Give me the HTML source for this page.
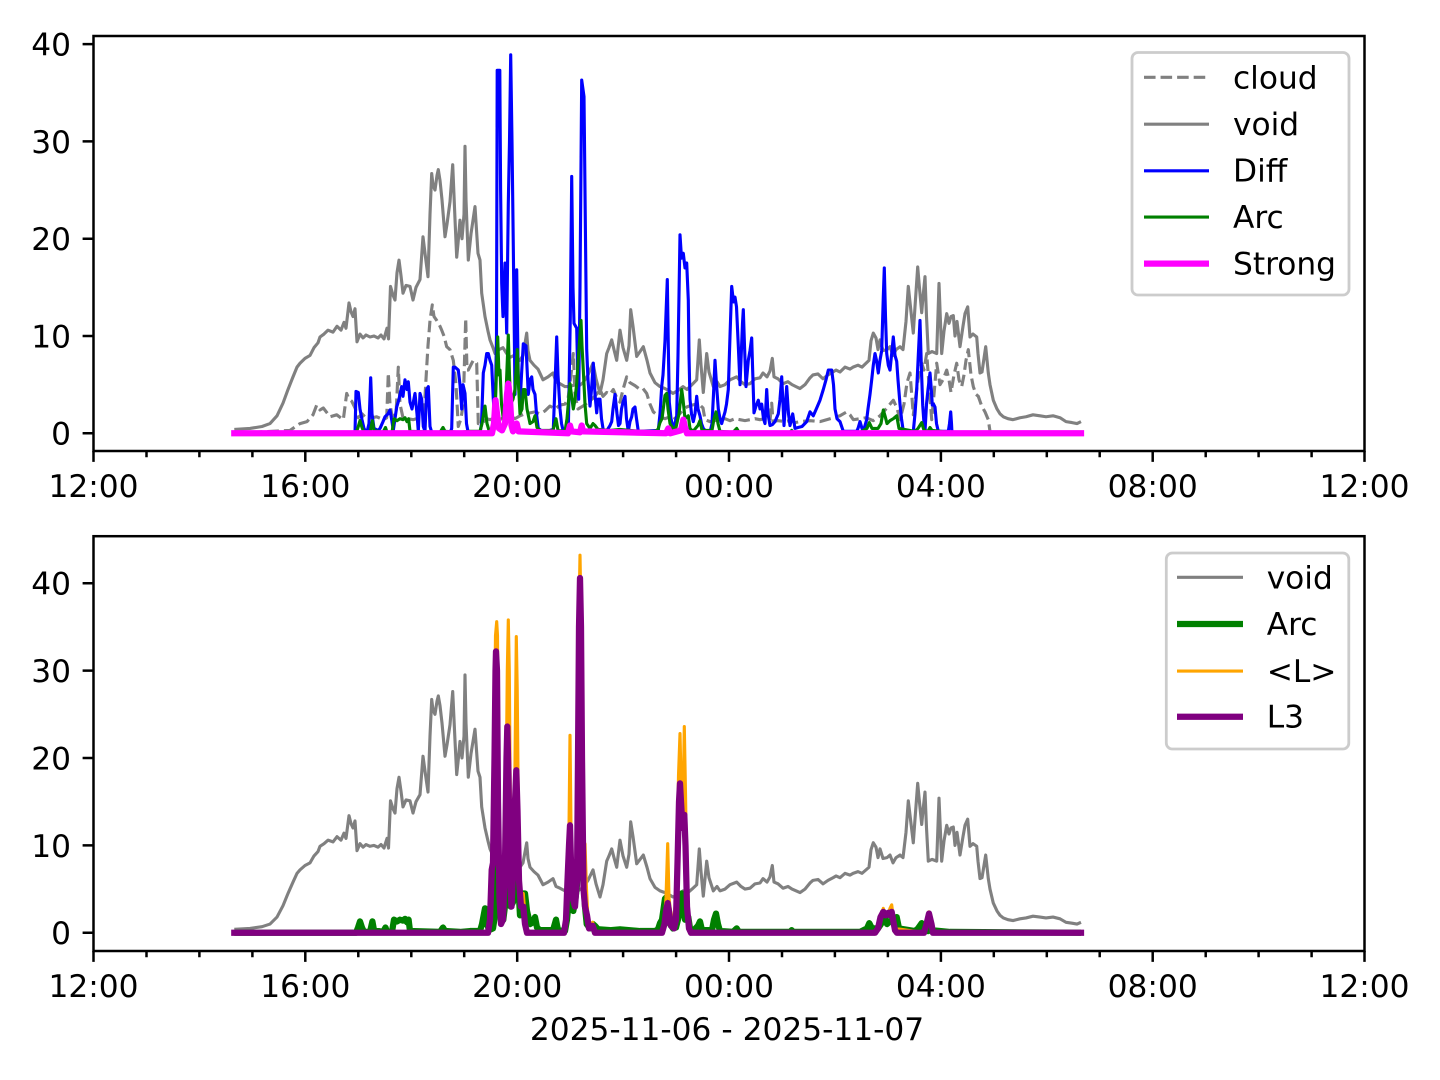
<!DOCTYPE html>
<html>
<head>
<meta charset="utf-8">
<style>
html,body{margin:0;padding:0;background:#fff;overflow:hidden;}
svg{display:block;}
.d{fill:none;vector-effect:non-scaling-stroke;stroke-linejoin:round;stroke-linecap:butt;}
text{font-family:"DejaVu Sans","Liberation Sans",sans-serif;font-size:31.25px;fill:#000;}
</style>
</head>
<body>
<svg width="1440" height="1080" viewBox="0 0 1440 1080" xmlns="http://www.w3.org/2000/svg">
<rect x="0" y="0" width="1440" height="1080" fill="#fff"/>

<!-- ================= TOP AXES ================= -->
<g transform="translate(0,433.3) scale(1,-9.73)">
  <!-- cloud -->
  <polyline class="d" stroke="#808080" stroke-width="3.125" stroke-dasharray="11.56,5" points="234.3,0 290,0.3 300,1.0 307,1.2 313,1.9 316.7,2.9 320,2.4 323.3,2.6 330,1.7 336.7,1.9 343.3,1.4 346.7,4.1 349,3.5 351.7,3.3 355,2.6 358.3,1.6 362,2.0 366.7,1.5 372,1.6 376.7,1.7 383.3,1.4 386.7,1.6 388.3,6.2 390,3.0 392,1.8 396,1.9 398.3,6.8 400,3.0 403,1.6 408,1.5 413.3,1.4 420,1.6 424,2.0 426.7,6.8 428,9.0 430,11.6 432.3,13.2 434,12.0 436.7,11.6 440,11.0 441.7,10.6 444,10.0 446.7,8.9 450,8.6 453.3,7.5 456,5.0 458.3,0.7 461,1.5 463.3,3.1 465.7,11.8 467,6.5 468.3,6.5 471.7,7.2 473.3,7.5 476.7,7.2 478.3,1.0 482,1.0 486.7,1.5 490,1.4 495,1.6 500,1.4 505,1.7 510,1.8 515,1.5 520,1.8 525,2.0 530,2.1 535,2.2 540,2.0 545,2.3 550,2.8 555,2.5 560,2.9 565,3.0 568,3.5 571,6.0 573.3,8.2 575,4.0 578,2.5 583,2.8 588,3.2 593,3.6 598,4.2 600,4.5 603,3.8 606.7,4.2 610,4.0 613.3,4.5 617,3.6 620,3.2 623,4.5 626.7,5.8 630,5.2 635,4.9 640,4.5 643,4.6 646.7,4.1 650,3.0 653.3,2.2 657,1.9 660,1.7 665,1.5 670,1.7 673.3,1.4 678,1.8 683,2.4 686.7,2.7 692,2.9 696,3.0 700,2.9 703,2.6 705,1.4 710,1.2 715,1.3 720,1.4 725,1.5 730,1.3 735,1.5 740,1.4 745,1.3 750,1.4 755,1.5 760,1.4 765,1.5 770,1.3 771.7,3.1 773,1.2 778,1.3 785,1.2 790,1.3 795,1.1 800,1.2 810,1.3 820,1.2 830,1.5 840,1.8 846.7,2.2 850,1.9 853.3,1.4 860,1.5 866,1.6 873.3,1.3 880,1.8 886,2.5 893.3,3.4 897,2.6 900,1.4 904,3.0 907,5.2 910,6.2 913.3,1.9 916,4.0 918,5.5 921.7,7.2 924,6.5 926.7,8.2 929,5.0 931.7,1.4 934,4.0 936.7,7.2 940,5.0 943,5.5 946.7,6.5 949,5.5 951,4.2 954,6.0 956.7,7.2 959,5.5 961.7,4.8 964,6.0 966,7.5 968.3,8.6 971,6.0 973.3,4.8 976,4.0 978.3,3.8 981.7,2.8 985,2.2 988.3,1.4 990,0.2"/>
  <!-- void -->
  <polyline class="d" stroke="#808080" stroke-width="3.125" points="234.3,0.4 250,0.5 262,0.7 270,1.0 277,1.8 283,3.1 288,4.5 293,5.8 297,6.8 300,7.2 305,7.7 310,8.0 314,8.8 318,9.3 320,9.9 324,10.2 328,10.6 333,10.4 337,11.0 341,10.6 344,11.4 346,10.8 349,13.4 351,12.5 353,12.0 355,12.8 357,9.4 360,10.2 363,9.8 366,10.1 370,9.9 374,10.0 378,9.8 381,10.1 384,9.7 387,10.8 388.5,9.7 390.5,15.1 393,14.2 395,13.7 397,16.5 399,17.8 401,16.2 403,14.4 406,15.2 410,15.1 413,13.7 416,15.0 420,15.8 423,20.2 425,18.5 428,16.1 430,22.5 431.7,26.7 433,25.5 435,25.0 437,26.5 438.3,27.1 440,26.0 442,24.0 445,20.2 447,21.5 450,23.8 452.7,27.6 455,22.0 456.7,18.1 458,19.5 460,21.9 462,20.0 464,22.5 465,29.5 466,24.0 468.3,17.8 471,20.5 475,23.3 478,18.5 480,17.8 481.7,14.4 485,12.0 488,10.5 490,9.6 493,8.8 495,8.2 499,8.6 503,8.8 506.7,8.2 510,7.8 514,8.0 517,7.4 520,7.5 523,8.0 526.7,10.3 528,8.5 530,7.5 534,7.0 538,6.6 543,5.5 548,5.8 553,6.2 556,5.3 560,5.1 565,4.8 570,4.8 575,5.0 578,4.8 583,5.2 588,6.0 593,7.2 596,5.6 600,4.1 603,5.5 606.7,8.2 609,8.8 611.7,9.6 614,8.6 616.7,7.5 620,10.6 623,8.8 626.7,7.5 629,9.0 630.7,12.7 633,11.0 636.7,7.9 640,8.4 643.3,8.9 647,7.5 650,6.2 655,5.2 660,4.8 665,4.6 670,4.3 673,4.1 678,4.4 683,4.8 687,4.5 692,5.0 696.7,5.5 699.3,9.6 701,7.0 703.3,4.2 706.7,8.2 709,6.3 713.3,4.8 717,5.3 720,4.8 725,5.0 730,5.5 736.7,5.8 741,5.3 745,5.0 750,5.1 755,5.6 760,5.7 763,6.2 767,5.8 770,6.4 772.3,7.7 774,5.8 778,5.6 783,5.1 788,5.3 792,5.0 796,4.8 800,4.6 805,5.0 810,5.7 813,6.0 818,6.1 823,5.6 828,6.0 833,6.3 836,6.5 840,6.3 845,6.8 850,6.6 853,6.8 858,7.0 862,6.8 866,7.2 869,7.5 871,9.5 873.3,10.3 876,9.8 878,8.6 880,9.6 883,8.5 887,8.6 890,8.9 893,8.0 896,8.6 900,8.9 903,8.6 906,11.5 908.3,15.1 911,12.5 913.3,10.3 915,13.0 917.7,17.1 919,15.5 921.7,12.4 923,14.0 925,16.1 926.5,12.0 928.3,8.2 932,8.4 936.7,8.2 939,15.4 941.7,8.2 944,10.5 946.7,12.3 949,11.3 951,12.0 953.3,12.1 955,10.0 957,11.5 960,8.9 963,11.0 965,12.3 967.7,13.0 970,9.9 973,10.2 976.7,9.9 978,8.2 980,6.2 982,6.3 985.7,8.9 988.3,6.2 990,5.0 993.3,3.4 997,2.5 1000,2.0 1003.3,1.7 1008,1.5 1013,1.4 1020,1.6 1026,1.7 1033,1.9 1040,1.8 1046,1.7 1053,1.8 1060,1.6 1066,1.2 1072,1.1 1077,1.0 1081,1.2"/>
  <!-- Diff -->
  <polyline class="d" stroke="#0000ff" stroke-width="3.125" points="355,0 356,4.3 358.3,4.2 360,2.5 362,1.4 364,0.5 366.7,0 369,1.0 370.7,5.7 372,2.0 374,0.5 378,0.3 380,0.5 383,1.2 385,1.7 388,2.0 390,2.4 392,1.2 393.3,0.3 395,1.5 396.7,2.7 399,3.5 401.7,4.8 403,3.8 405,5.5 407,4.5 408.3,5.3 410,3.2 412,2.5 415,4.1 417,2.0 418.3,0.2 420,4.1 421.7,3.5 423.3,0.7 425,0.2 426.7,4.5 428.3,4.8 430,0.7 432,0 450,0 451.7,0.5 453.3,6.8 455,6.8 458.3,6.5 460,5.0 461.7,2.5 463,5.0 465,4.1 466.5,1.0 468.3,0 480,0 481.5,1.0 483.3,6.2 485,7.0 486.7,8.2 488.3,8.2 490,7.5 491.7,7.0 493.3,3.5 495,1.0 496.5,10 497.2,37.3 499.8,37.3 500.6,25 501.7,15.4 503,12 505,17.5 506.7,10.3 508.3,23.6 509.5,30 510.7,38.9 512,30 513.3,19.2 515,4.0 516.7,16.8 518.3,5.5 520,3.0 521.5,6.0 523.3,9.2 526,9.0 528.3,4.0 530,5.5 531.7,5.8 533,4.5 535,4.0 536.5,2.0 538.3,0.5 541,0.3 545,0.2 550,0.3 553.3,0.4 555,5.0 556.7,9.9 558,6.0 560,2.5 561.5,1.0 563.3,0.2 568.3,0.2 570.3,12 571.7,26.4 573,15 574,11.3 576.7,10.8 578,5.0 578.7,3.5 580,15 581.7,36.3 584,34.6 585.5,20 586.7,8.6 588,5.5 590,2.8 591.5,4.5 593.3,7.2 595,4.0 596.7,2.1 598,3.5 600,3.5 601.5,1.5 603.3,0.3 607,0.3 610,0.8 611.7,1.2 613,2.5 615,4.0 617,2.0 618.5,0.8 620,1.0 621.5,2.5 623,3.2 625,3.8 626.5,1.5 628.3,0.2 630,1.2 631.7,1.7 633,2.5 635,2.7 636.5,1.5 638.3,0.2 658.3,0.3 660,2.0 661.7,4.8 663,6.0 665,9.5 667.3,15.8 668.3,9.0 669.3,3.2 671,1.5 673.3,0.5 675,1.0 676.7,1.8 678,8.0 680,20.4 681.5,18.0 683.3,18.5 685,17.0 686.7,17.5 688.3,13.7 689,8.0 690,3.5 691.5,2.0 693.3,1.2 695,2.0 696.7,3.8 698,2.5 700,1.8 701.5,1.0 703.3,0.5 706,0.2 710,0.1 712,1.0 713.5,4.0 715,7.5 716.5,5.0 718.3,2.5 720,1.5 721.7,1.0 723,1.5 725,2.2 726.5,3.0 728.3,4.5 730,10.0 731.7,15.1 733.5,13.5 735,14.0 736.5,13.0 738.3,9.0 740,5.0 741,7.5 742.5,11.3 743.3,12.7 744.5,9.0 746,4.8 748.3,7.5 750,8.5 751.7,9.8 752.5,7.0 754,2.1 756,2.8 758.3,3.4 760,2.5 761.7,3.0 763.5,1.5 765,1.0 766.7,4.5 768,2.0 770,0.8 772.5,0.9 775,1.2 778.3,2.0 780,3.5 781.7,5.8 783,3.0 784,0.8 786.7,4.8 788.5,2.0 790,0.8 792.7,2.0 795,0.5 798,0.6 802,0.7 806.7,1.2 810,2.2 813.3,1.8 816.7,2.6 820,3.4 823.3,4.5 826,5.5 828.3,6.5 831.7,6.5 833.5,5.0 835,2.5 837,1.5 840,1.2 843.3,0.2 856.7,0.2 858,0.5 860,1.2 862,0.5 863.3,0.2 865,0.8 866.7,1.4 868,2.5 870,4.0 871.7,5.5 873.3,7.0 875,8.2 876.5,7.5 878.3,6.2 880,7.5 881.7,8.5 883.3,14 884.3,17.0 885.5,12 886.7,8.2 888.3,7.0 890,6.5 891.5,8.0 893.3,9.9 895,8.0 896.7,7.4 898,5.5 900,3.0 901.5,1.5 903.3,0.2 913.3,0.2 915,2.0 916.7,4.5 918.3,8.0 920,11.6 921.3,7.0 922.7,2.9 924,1.0 925,0.2 926.5,3.0 928,4.5 930,6.2 931.3,4.5 932.3,2.9 933.5,3.0 935,2.7 936.5,1.0 938.3,0.2 948.3,0.2 949.5,1.0 950.7,2.2 951.5,1.0 952,0"/>
  <!-- Arc -->
  <polyline class="d" stroke="#008000" stroke-width="3.125" points="234.3,0 356,0 358,0.6 360,1.3 362,0.6 364,0.1 370,0.1 372.4,1.3 374,0.3 383,0.1 385.5,0.6 387,0.1 392,0.1 394,1.5 397,1.3 400,1.5 403,1.4 405,1.6 407,1.2 408.6,1.5 410,0.2 440,0.1 443,0.6 445,0.2 460,0.1 470,0.2 480,0.2 482,1.0 485,2.8 487,1.0 489,0.3 493,0.5 495,2.0 497.7,9.9 499,6.0 500,6.5 501.5,3.0 503.3,1.5 506,4.0 508.3,10.1 509.5,6.0 510.7,3.0 513,3.5 515,4.5 517.3,8.6 518.5,5.0 520,2.0 522,2.5 523.3,4.5 525,4.5 527,2.5 530,1.0 533,1.2 535,1.8 537,0.6 540,0.3 553,0.3 556,1.5 558,0.3 565,0.2 567,1.5 570,5.1 572,3.5 573.3,2.5 575,3.5 576.7,5.1 578.5,8.0 581,11.6 582,9.0 583.3,6.5 585,3.0 586.7,1.0 590,0.5 593,1.0 595,0.8 598,0.4 610,0.3 620,0.4 630,0.3 640,0.2 655,0.2 658,0.4 660,1.1 662,1.5 665,3.9 666.7,4.1 668,2.5 670,1.0 673,0.5 676,0.6 679,2.0 681.7,4.5 683,3.5 685,1.5 688.3,1.8 690,0.5 693,0.2 698,0.8 700,1.3 702,0.3 712,0.3 714,1.5 716,2.2 718,1.0 720,0.2 733,0.1 736.7,0.5 739,0.1 760,0.1 790,0.1 791.7,0.3 793,0.1 860,0.1 867,0.5 869.3,1.1 872,0.5 878,0.5 881,1.0 883.3,2.4 885,1.8 887,1.0 890,1.3 893.3,1.5 896.7,1.8 899,0.5 915,0.2 918,0.5 921.7,1.1 924,0.3 928,0.2 930,0.6 932,0.3 950,0.1 1081,0"/>
  <!-- Strong -->
  <polyline class="d" stroke="#ff00ff" stroke-width="6.25" style="stroke-linecap:square" points="234.3,0 492,0 494,1.0 495.5,3.4 497,2.0 499,0.5 502,0.3 505,1.0 507,4.0 508.3,5.1 510,3.5 511.5,0.8 513,0.2 515,0.6 516.7,1.0 518.5,0.2 568,0 570,0.8 571.5,0.2 580,0.1 581.7,0.8 583,0.2 666,0 668.3,0.5 670,0 681,0.3 683.3,1.4 685,0.6 687,0 1081,0"/>
</g>

<!-- top spines -->
<rect x="93.5" y="36" width="1271" height="415" fill="none" stroke="#000" stroke-width="2.5"/>
<!-- top x ticks -->
<path stroke="#000" stroke-width="2.5" fill="none" d="M93.5 451v10.9 M305.3 451v10.9 M517.2 451v10.9 M729 451v10.9 M940.9 451v10.9 M1152.7 451v10.9 M1364.5 451v10.9
M146.5 451v6.25 M199.4 451v6.25 M252.4 451v6.25 M358.3 451v6.25 M411.3 451v6.25 M464.2 451v6.25 M570.1 451v6.25 M623.1 451v6.25 M676.1 451v6.25 M782 451v6.25 M834.9 451v6.25 M887.9 451v6.25 M993.8 451v6.25 M1046.8 451v6.25 M1099.7 451v6.25 M1205.7 451v6.25 M1258.6 451v6.25 M1311.6 451v6.25"/>
<!-- top y ticks -->
<path stroke="#000" stroke-width="2.5" fill="none" d="M93.5 433.3h-10.9 M93.5 336h-10.9 M93.5 238.7h-10.9 M93.5 141.4h-10.9 M93.5 44.1h-10.9"/>
<g text-anchor="end">
<text x="71" y="444.7">0</text>
<text x="71" y="347.4">10</text>
<text x="71" y="250.1">20</text>
<text x="71" y="152.8">30</text>
<text x="71" y="55.5">40</text>
</g>
<g text-anchor="middle">
<text x="93.5" y="497">12:00</text>
<text x="305.3" y="497">16:00</text>
<text x="517.2" y="497">20:00</text>
<text x="729" y="497">00:00</text>
<text x="940.9" y="497">04:00</text>
<text x="1152.7" y="497">08:00</text>
<text x="1364.5" y="497">12:00</text>
</g>

<!-- top legend -->
<rect x="1132" y="52.5" width="217" height="242.5" rx="6" ry="6" fill="#fff" fill-opacity="0.8" stroke="#cccccc" stroke-width="2.8"/>
<line x1="1144" y1="77.3" x2="1209" y2="77.3" stroke="#808080" stroke-width="3.125" stroke-dasharray="11.56,5"/>
<line x1="1144" y1="124.2" x2="1209" y2="124.2" stroke="#808080" stroke-width="3.125"/>
<line x1="1144" y1="170.8" x2="1209" y2="170.8" stroke="#0000ff" stroke-width="3.125"/>
<line x1="1144" y1="217" x2="1209" y2="217" stroke="#008000" stroke-width="3.125"/>
<line x1="1144" y1="263.6" x2="1209" y2="263.6" stroke="#ff00ff" stroke-width="6.25"/>
<text x="1233" y="88.3">cloud</text>
<text x="1233" y="135">void</text>
<text x="1233" y="181.7">Diff</text>
<text x="1233" y="228">Arc</text>
<text x="1233" y="274.6">Strong</text>

<!-- ================= BOTTOM AXES ================= -->
<g transform="translate(0,932.8) scale(1,-8.74)">
  <!-- void -->
  <polyline class="d" stroke="#808080" stroke-width="3.125" points="234.3,0.4 250,0.5 262,0.7 270,1.0 277,1.8 283,3.1 288,4.5 293,5.8 297,6.8 300,7.2 305,7.7 310,8.0 314,8.8 318,9.3 320,9.9 324,10.2 328,10.6 333,10.4 337,11.0 341,10.6 344,11.4 346,10.8 349,13.4 351,12.5 353,12.0 355,12.8 357,9.4 360,10.2 363,9.8 366,10.1 370,9.9 374,10.0 378,9.8 381,10.1 384,9.7 387,10.8 388.5,9.7 390.5,15.1 393,14.2 395,13.7 397,16.5 399,17.8 401,16.2 403,14.4 406,15.2 410,15.1 413,13.7 416,15.0 420,15.8 423,20.2 425,18.5 428,16.1 430,22.5 431.7,26.7 433,25.5 435,25.0 437,26.5 438.3,27.1 440,26.0 442,24.0 445,20.2 447,21.5 450,23.8 452.7,27.6 455,22.0 456.7,18.1 458,19.5 460,21.9 462,20.0 464,22.5 465,29.5 466,24.0 468.3,17.8 471,20.5 475,23.3 478,18.5 480,17.8 481.7,14.4 485,12.0 488,10.5 490,9.6 493,8.8 495,8.2 499,8.6 503,8.8 506.7,8.2 510,7.8 514,8.0 517,7.4 520,7.5 523,8.0 526.7,10.3 528,8.5 530,7.5 534,7.0 538,6.6 543,5.5 548,5.8 553,6.2 556,5.3 560,5.1 565,4.8 570,4.8 575,5.0 578,4.8 583,5.2 588,6.0 593,7.2 596,5.6 600,4.1 603,5.5 606.7,8.2 609,8.8 611.7,9.6 614,8.6 616.7,7.5 620,10.6 623,8.8 626.7,7.5 629,9.0 630.7,12.7 633,11.0 636.7,7.9 640,8.4 643.3,8.9 647,7.5 650,6.2 655,5.2 660,4.8 665,4.6 670,4.3 673,4.1 678,4.4 683,4.8 687,4.5 692,5.0 696.7,5.5 699.3,9.6 701,7.0 703.3,4.2 706.7,8.2 709,6.3 713.3,4.8 717,5.3 720,4.8 725,5.0 730,5.5 736.7,5.8 741,5.3 745,5.0 750,5.1 755,5.6 760,5.7 763,6.2 767,5.8 770,6.4 772.3,7.7 774,5.8 778,5.6 783,5.1 788,5.3 792,5.0 796,4.8 800,4.6 805,5.0 810,5.7 813,6.0 818,6.1 823,5.6 828,6.0 833,6.3 836,6.5 840,6.3 845,6.8 850,6.6 853,6.8 858,7.0 862,6.8 866,7.2 869,7.5 871,9.5 873.3,10.3 876,9.8 878,8.6 880,9.6 883,8.5 887,8.6 890,8.9 893,8.0 896,8.6 900,8.9 903,8.6 906,11.5 908.3,15.1 911,12.5 913.3,10.3 915,13.0 917.7,17.1 919,15.5 921.7,12.4 923,14.0 925,16.1 926.5,12.0 928.3,8.2 932,8.4 936.7,8.2 939,15.4 941.7,8.2 944,10.5 946.7,12.3 949,11.3 951,12.0 953.3,12.1 955,10.0 957,11.5 960,8.9 963,11.0 965,12.3 967.7,13.0 970,9.9 973,10.2 976.7,9.9 978,8.2 980,6.2 982,6.3 985.7,8.9 988.3,6.2 990,5.0 993.3,3.4 997,2.5 1000,2.0 1003.3,1.7 1008,1.5 1013,1.4 1020,1.6 1026,1.7 1033,1.9 1040,1.8 1046,1.7 1053,1.8 1060,1.6 1066,1.2 1072,1.1 1077,1.0 1081,1.2"/>
  <!-- Arc thick -->
  <polyline class="d" stroke="#008000" stroke-width="6.25" points="234.3,0 356,0 358,0.6 360,1.3 362,0.6 364,0.1 370,0.1 372.4,1.3 374,0.3 383,0.1 385.5,0.6 387,0.1 392,0.1 394,1.5 397,1.3 400,1.5 403,1.4 405,1.6 407,1.2 408.6,1.5 410,0.2 440,0.1 443,0.6 445,0.2 460,0.1 470,0.2 480,0.2 482,1.0 485,2.8 487,1.0 489,0.3 493,0.5 495,2.0 497.7,9.9 499,6.0 500,6.5 501.5,3.0 503.3,1.5 506,4.0 508.3,10.1 509.5,6.0 510.7,3.0 513,3.5 515,4.5 517.3,8.6 518.5,5.0 520,2.0 522,2.5 523.3,4.5 525,4.5 527,2.5 530,1.0 533,1.2 535,1.8 537,0.6 540,0.3 553,0.3 556,1.5 558,0.3 565,0.2 567,1.5 570,5.1 572,3.5 573.3,2.5 575,3.5 576.7,5.1 578.5,8.0 581,11.6 582,9.0 583.3,6.5 585,3.0 586.7,1.0 590,0.5 593,1.0 595,0.8 598,0.4 610,0.3 620,0.4 630,0.3 640,0.2 655,0.2 658,0.4 660,1.1 662,1.5 665,3.9 666.7,4.1 668,2.5 670,1.0 673,0.5 676,0.6 679,2.0 681.7,4.5 683,3.5 685,1.5 688.3,1.8 690,0.5 693,0.2 698,0.8 700,1.3 702,0.3 712,0.3 714,1.5 716,2.2 718,1.0 720,0.2 733,0.1 736.7,0.5 739,0.1 760,0.1 790,0.1 791.7,0.3 793,0.1 860,0.1 867,0.5 869.3,1.1 872,0.5 878,0.5 881,1.0 883.3,2.4 885,1.8 887,1.0 890,1.3 893.3,1.5 896.7,1.8 899,0.5 915,0.2 918,0.5 921.7,1.1 924,0.3 928,0.2 930,0.6 932,0.3 950,0.1 1081,0"/>
  <!-- <L> -->
  <polyline class="d" stroke="#ffa500" stroke-width="3.125" points="234.3,0 488,0 490,1 491.7,7.5 494,20 495.5,34 496.7,35.6 497.5,34 498.5,15 500,5 502,2 504,3 506,15 507.3,30 508.3,35.8 509.3,30 510.5,12 512,5 514,8 515.5,25 516.3,33.9 517.2,28 518.5,12 520,4 522,3 523.3,4.5 525,2 527,0.5 530,0 564,0 566,1 568,5 569,12 570,22.6 571,12 572.5,5 574,3 576,5 578,20 579.2,38 580,43.2 580.8,38 582,20 583.5,9 585,10.2 586.5,5 588,1.5 590,0.8 592.7,1.2 595,0 662,0 664,1 666,4 667.7,10.2 669,4 671,2 673,1 675,3 677,8 678.5,18 680,22.8 681.5,15 683,14 684.3,23.6 685.5,16 687,5 689,1 691,0 875,0 878,0.5 881,2.0 883.3,2.8 885,2.2 888,2.0 890,2.8 891.7,3.2 893,2.0 895,0.5 925,0 927,1.5 929,2.4 931,1.5 933,0 1081,0"/>
  <!-- L3 -->
  <polyline class="d" stroke="#800080" stroke-width="6.25" style="stroke-linecap:square" points="234.3,0 488,0 490,1.5 491.7,7.2 493,8 494.5,20 495.5,30 496,32.2 497,30 498,15 499.5,4 501,1 503,1.5 505,8 506.5,20 507.3,23.6 508.5,18 510,6 511.5,3 513.5,8 515,15 516.3,18.6 517.5,14 519,6 521,3 523.3,3.0 525,1 527,0 564,0 566,1.5 567.5,6 569,10 570,12.3 571,8 572.5,4 575,3 577,6 578,20 579,35 580,40.6 581,35 582,20 583.5,5 585,3 587,2 589,0.5 592.7,0.8 595,0 662,0 664.5,1 666,2.5 667.7,3.4 669,2.5 671,0.8 674,0.5 676,1.5 677.5,8 679,15 680,17.1 681,15 682.5,12 684.3,13.5 685.5,10 687,3 689,0.5 691,0 875,0 878,0.5 880.5,1.8 883.3,2.4 885.5,2.0 888.3,2.3 890,2.0 891.7,2.4 893,1.5 895,0.3 897,0 924,0 926.5,1.0 929,2.2 931.5,1.0 933,0 1081,0"/>
</g>

<!-- bottom spines -->
<rect x="93.5" y="536.2" width="1271" height="414.8" fill="none" stroke="#000" stroke-width="2.5"/>
<!-- bottom x ticks -->
<path stroke="#000" stroke-width="2.5" fill="none" d="M93.5 951v10.9 M305.3 951v10.9 M517.2 951v10.9 M729 951v10.9 M940.9 951v10.9 M1152.7 951v10.9 M1364.5 951v10.9
M146.5 951v6.25 M199.4 951v6.25 M252.4 951v6.25 M358.3 951v6.25 M411.3 951v6.25 M464.2 951v6.25 M570.1 951v6.25 M623.1 951v6.25 M676.1 951v6.25 M782 951v6.25 M834.9 951v6.25 M887.9 951v6.25 M993.8 951v6.25 M1046.8 951v6.25 M1099.7 951v6.25 M1205.7 951v6.25 M1258.6 951v6.25 M1311.6 951v6.25"/>
<!-- bottom y ticks -->
<path stroke="#000" stroke-width="2.5" fill="none" d="M93.5 932.8h-10.9 M93.5 845.4h-10.9 M93.5 758h-10.9 M93.5 670.6h-10.9 M93.5 583.2h-10.9"/>
<g text-anchor="end">
<text x="71" y="944.2">0</text>
<text x="71" y="856.8">10</text>
<text x="71" y="769.4">20</text>
<text x="71" y="682">30</text>
<text x="71" y="594.6">40</text>
</g>
<g text-anchor="middle">
<text x="93.5" y="997">12:00</text>
<text x="305.3" y="997">16:00</text>
<text x="517.2" y="997">20:00</text>
<text x="729" y="997">00:00</text>
<text x="940.9" y="997">04:00</text>
<text x="1152.7" y="997">08:00</text>
<text x="1364.5" y="997">12:00</text>
<text x="727" y="1040">2025-11-06 - 2025-11-07</text>
</g>

<!-- bottom legend -->
<rect x="1166.3" y="553" width="182.5" height="196" rx="6" ry="6" fill="#fff" fill-opacity="0.8" stroke="#cccccc" stroke-width="2.8"/>
<line x1="1177" y1="577.3" x2="1243" y2="577.3" stroke="#808080" stroke-width="3.125"/>
<line x1="1177" y1="624" x2="1243" y2="624" stroke="#008000" stroke-width="6.25"/>
<line x1="1177" y1="671" x2="1243" y2="671" stroke="#ffa500" stroke-width="3.125"/>
<line x1="1177" y1="716.7" x2="1243" y2="716.7" stroke="#800080" stroke-width="6.25"/>
<text x="1266.7" y="588.3">void</text>
<text x="1266.7" y="635">Arc</text>
<text x="1266.7" y="682">&lt;L&gt;</text>
<text x="1266.7" y="727.7">L3</text>
</svg>
</body>
</html>
